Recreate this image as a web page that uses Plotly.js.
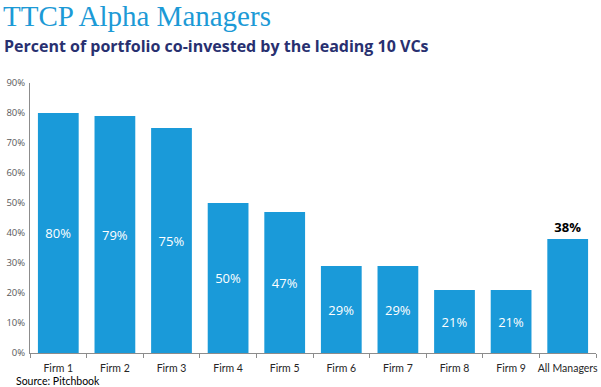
<!DOCTYPE html>
<html>
<head>
<meta charset="utf-8">
<script src="https://cdn.plot.ly/plotly-3.0.1.min.js"></script>
<style>html,body{margin:0;padding:0;background:#fff;}#chart{width:601px;height:387px;}</style>
</head>
<body>
<div id="chart"></div>
<script>
const categories = ["Firm 1","Firm 2","Firm 3","Firm 4","Firm 5","Firm 6","Firm 7","Firm 8","Firm 9","All Managers"];
const values = [0.80,0.79,0.75,0.50,0.47,0.29,0.29,0.21,0.21,0.38];
const labels = ["80%","79%","75%","50%","47%","29%","29%","21%","21%","38%"];
const textPositions = ["inside","inside","inside","inside","inside","inside","inside","inside","inside","outside"];

const L = 30, T = 83, PW = 566, PH = 270;
function px(x){ return (x - L) / PW; }
function py(y){ return (T + PH - y) / PH; }

const trace = {
  type: "bar",
  x: categories,
  y: values,
  text: labels,
  textposition: textPositions,
  insidetextanchor: "middle",
  insidetextfont: {family: "Open Sans, sans-serif", size: 13, color: "#ffffff"},
  outsidetextfont: {family: "Open Sans, sans-serif", size: 13, color: "#000000", weight: "bold"},
  cliponaxis: false,
  marker: {color: "#1a9ad9"},
  hoverinfo: "none"
};

const layout = {
  width: 601, height: 387,
  margin: {l: L, r: 601 - L - PW, t: T, b: 387 - T - PH, pad: 0},
  paper_bgcolor: "#ffffff",
  plot_bgcolor: "#ffffff",
  bargap: 0.28,
  showlegend: false,
  xaxis: {
    type: "category",
    showline: true, linecolor: "#8c8c8c", linewidth: 1,
    ticks: "outside", tickson: "boundaries", ticklen: 4, tickcolor: "#8c8c8c",
    tickangle: 0,
    tickfont: {family: "Lato, sans-serif", size: 10.5, color: "#262626"},
    ticklabelstandoff: 5,
    showgrid: false, zeroline: false, fixedrange: true
  },
  yaxis: {
    range: [0, 0.9],
    tickvals: [0,0.1,0.2,0.3,0.4,0.5,0.6,0.7,0.8,0.9],
    tickformat: ".0%",
    showline: true, linecolor: "#8c8c8c", linewidth: 1,
    ticks: "", showgrid: false, zeroline: false,
    tickfont: {family: "Open Sans, sans-serif", size: 9.5, color: "#595959"},
    ticklabelstandoff: 2,
    fixedrange: true
  },
  annotations: [
    {text: "TTCP Alpha Managers", xref: "paper", yref: "paper", x: px(1), y: py(16),
     xanchor: "left", yanchor: "middle", showarrow: false,
     font: {family: "Liberation Serif, serif", size: 29, color: "#1c9ad6"}},
    {text: "Percent of portfolio co-invested by the leading 10 VCs", xref: "paper", yref: "paper",
     x: px(2), y: py(46), xanchor: "left", yanchor: "middle", showarrow: false,
     font: {family: "Open Sans, sans-serif", size: 16, color: "#283070", weight: "bold"}},
    {text: "Source: Pitchbook", xref: "paper", yref: "paper", x: px(14), y: py(381),
     xanchor: "left", yanchor: "middle", showarrow: false,
     font: {family: "Lato, sans-serif", size: 10.5, color: "#000000"}}
  ]
};

Plotly.newPlot("chart", [trace], layout, {displayModeBar: false, staticPlot: true});
</script>
</body>
</html>
